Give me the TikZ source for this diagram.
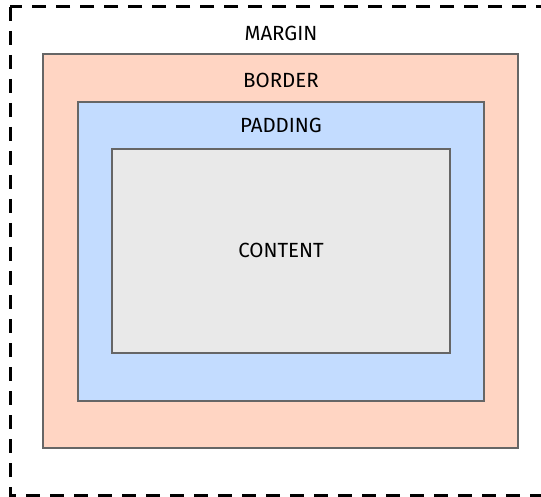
\documentclass[tikz,border=0pt]{standalone}
\usepackage{fontspec}
\setmainfont{Fira Sans}
\definecolor{borderfill}{HTML}{FFD5C3}
\definecolor{paddingfill}{HTML}{C3DCFF}
\definecolor{contentfill}{HTML}{E9E9E9}
\definecolor{edge}{HTML}{666666}
\tikzset{
  boxarea/.style={draw=edge, line width=1.6pt},
  marginline/.style={draw=black, line width=3pt, dash pattern=on 14pt off 10pt},
  lbl/.style={anchor=base, font=\fontsize{20.5}{24}\selectfont, text=black, inner sep=0pt}
}
\begin{document}
\begin{tikzpicture}[x=1pt,y=-1pt]
\useasboundingbox (0,0) rectangle (541,497);
\clip (0,0) rectangle (541,497);
\fill[white] (0,0) rectangle (541,497);
\draw[marginline] (10,7) rectangle (548,495);
\draw[boxarea, fill=borderfill] (43,54) rectangle (518,448);
\draw[boxarea, fill=paddingfill] (78,102) rectangle (484,401);
\draw[boxarea, fill=contentfill] (112,149) rectangle (450,353);
\node[lbl] (margin) at (281,41) {MARGIN};
\node[lbl] (border) at (281,88) {BORDER};
\node[lbl] (padding) at (281,133) {PADDING};
\node[lbl] (content) at (281,258) {CONTENT};
\end{tikzpicture}
\end{document}
